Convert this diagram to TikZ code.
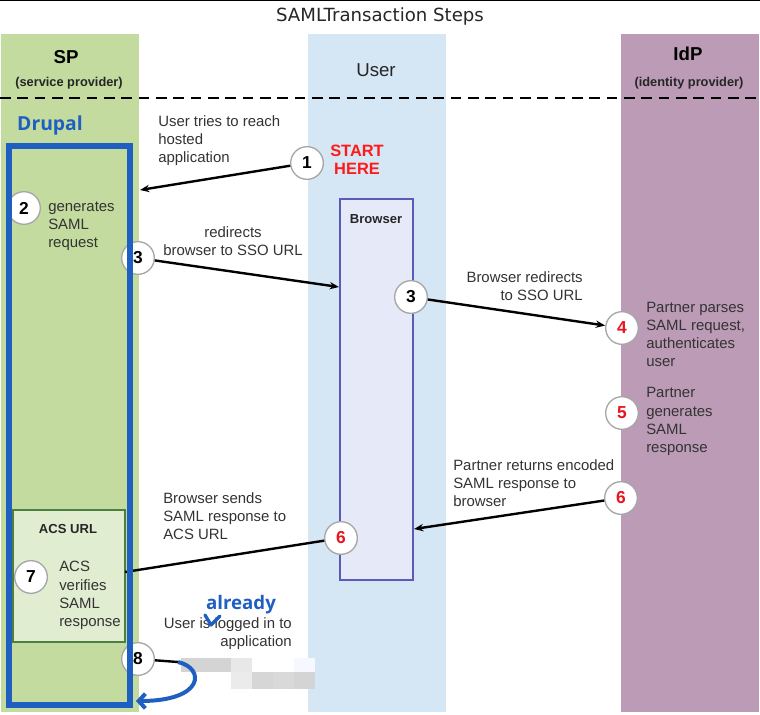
\documentclass[tikz,border=0pt]{standalone}
\usepackage{fontspec}
\setmainfont{Liberation Sans}
\newfontfamily\titlefont{DejaVu Sans}
\newfontfamily\notofont{Open Sans}
\usetikzlibrary{arrows.meta}

\definecolor{spgreen}{HTML}{C3DB9F}
\definecolor{acsgreen}{HTML}{E0EDD0}
\definecolor{acsborder}{HTML}{4F7F3F}
\definecolor{userblue}{HTML}{D5E6F5}
\definecolor{idppurple}{HTML}{BC9BB7}
\definecolor{browserfill}{HTML}{E5E9F8}
\definecolor{browserborder}{HTML}{5A5AB8}
\definecolor{drupalblue}{HTML}{1F5FC1}
\definecolor{startred}{HTML}{FF1A1A}
\definecolor{numred}{HTML}{E8141E}

\begin{document}
\begin{tikzpicture}[x=0.75pt, y=-0.75pt,
    num/.style={circle, draw=black!35, line width=1pt, fill=white, minimum size=24.5pt, inner sep=0pt, font=\bfseries\fontsize{13}{13}\selectfont},
    rednum/.style={num, text=numred},
    txt/.style={inner sep=0pt, align=left, text=black!80, font=\fontsize{11.2}{13.6}\selectfont},
    head/.style={inner sep=0pt, font=\bfseries\fontsize{14}{16}\selectfont},
    small/.style={inner sep=0pt, text=black!85, font=\bfseries\fontsize{9.6}{11}\selectfont},
    arr/.style={line width=1.8pt, -{Stealth[length=7pt,width=5.5pt]}},
    blueline/.style={draw=drupalblue, line width=3pt}]
    \useasboundingbox (0,0) rectangle (760,714);

    % Columns
    \fill[spgreen] (1,34) rectangle (139,712);
    \fill[userblue] (308,34) rectangle (446,712);
    \fill[idppurple] (621,34) rectangle (759,712);
    \draw[line width=1pt] (0,0.7) -- (760,0.7);
    \draw[line width=1.5pt, dash pattern=on 8pt off 5pt] (0,98) -- (760,98);

    % Headings
    \node[inner sep=0pt, text=black!85, font=\titlefont\fontsize{13.6}{15}\selectfont] (title) at (380,16) {SAMLTransaction Steps};
    \node[head] (sp) at (66,57) {SP};
    \node[small] (spsub) at (69,83) {(service provider)};
    \node[inner sep=0pt, text=black!85, font=\fontsize{14}{16}\selectfont] (user) at (376,70) {User};
    \node[head] (idp) at (688,54) {IdP};
    \node[small] (idpsub) at (689,83) {(identity provider)};
    \node[inner sep=0pt, text=drupalblue, font=\notofont\bfseries\fontsize{14.5}{16}\selectfont] (drupal) at (50,125) {Drupal};

    % Boxes
    \node[draw=browserborder, fill=browserfill, line width=1pt, minimum width=54.75pt, minimum height=285.75pt, inner sep=0pt] (browser) at (376.5,389.5) {};
    \node[small, font=\bfseries\fontsize{9.8}{11}\selectfont] (browserlbl) at (376,219) {Browser};
    \node[draw=acsborder, fill=acsgreen, line width=0.8pt, minimum width=84pt, minimum height=99pt, inner sep=0pt] (acs) at (69,576) {};
    \node[small, font=\bfseries\fontsize{9.8}{11}\selectfont] (acslbl) at (68,529) {ACS URL};

    % Texts
    \node[txt, anchor=west] (t1) at (158,141) {User tries to reach\\hosted\\application};
    \node[inner sep=0pt, align=center, text=startred, font=\bfseries\fontsize{12.3}{13.6}\selectfont] (start) at (357,160) {START\\HERE};
    \node[txt, anchor=west] (t2) at (48,226) {generates\\SAML\\request};
    \node[txt, align=center] (t3a) at (233,241) {redirects\\browser to SSO URL};
    \node[txt, align=right, anchor=east] (t3b) at (583,286) {Browser redirects\\to SSO URL};
    \node[txt, anchor=west] (t4) at (646,334.5) {Partner parses\\SAML request,\\authenticates\\user};
    \node[txt, anchor=west] (t5) at (646,421.5) {Partner\\generates\\SAML\\response};
    \node[txt, anchor=west] (t6a) at (453,483.5) {Partner returns encoded\\SAML response to\\browser};
    \node[txt, anchor=west] (t6b) at (163,516.5) {Browser sends\\SAML response to\\ACS URL};
    \node[txt, anchor=west] (t7) at (59,595.5) {ACS\\verifies\\SAML\\response};
    \node[txt, align=right, anchor=east] (t8) at (292,634) {User is logged in to\\application};
    \node[inner sep=0pt, text=drupalblue, font=\notofont\bfseries\fontsize{14}{16}\selectfont] (already) at (241,605) {already};

    % Steps
    \node[num] (n1) at (307,163) {1};
    \node[num] (n2) at (24,208) {2};
    \node[num] (n3a) at (138,258) {3};
    \node[num] (n3b) at (411,297) {3};
    \node[rednum] (n4) at (622,328) {4};
    \node[rednum] (n5) at (622,413) {5};
    \node[rednum] (n6a) at (621,498) {6};
    \node[rednum] (n6b) at (341,538) {6};
    \node[num] (n7) at (31,577) {7};
    \node[num] (n8) at (138,659) {8};

    \coordinate (p1) at (140,190);
    \coordinate (p3) at (339,287);
    \coordinate (p6) at (414,529);
    \coordinate (p7) at (125,572);
    \coordinate (p8) at (178,662);
    \coordinate (p9) at (136,701);

    % Arrows
    \draw[arr] (n1) -- (p1);
    \draw[arr] (n3a) -- (p3);
    \draw[arr] (n3b) -- (n4);
    \draw[arr] (n6a) -- (p6);
    \draw[line width=1.8pt] (n6b) -- (p7);
    \draw[line width=1.8pt] (n8) -- (p8);

    % Hidden part
    \fill[black!17] (181,658) rectangle (231,672);
    \fill[black!9] (231,658) rectangle (252,672);
    \fill[blue!3] (294,658) rectangle (315,672);
    \fill[black!8] (231,672) rectangle (252,689);
    \fill[black!16] (252,672) rectangle (273,689);
    \fill[black!15] (273,672) rectangle (294,689);
    \fill[black!17] (294,672) rectangle (315,689);

    % Drupal frame
    \draw[drupalblue, line width=4.5pt] (9,146) rectangle (130,705);
    \draw[blueline, -{Straight Barb[length=5pt,width=11pt]}] (p8) .. controls (205,668) and (205,701) .. (p9);
    \draw[blueline, line width=2.5pt, line cap=round, line join=round] (205,615) -- (211,625) -- (220,616);
\end{tikzpicture}
\end{document}
